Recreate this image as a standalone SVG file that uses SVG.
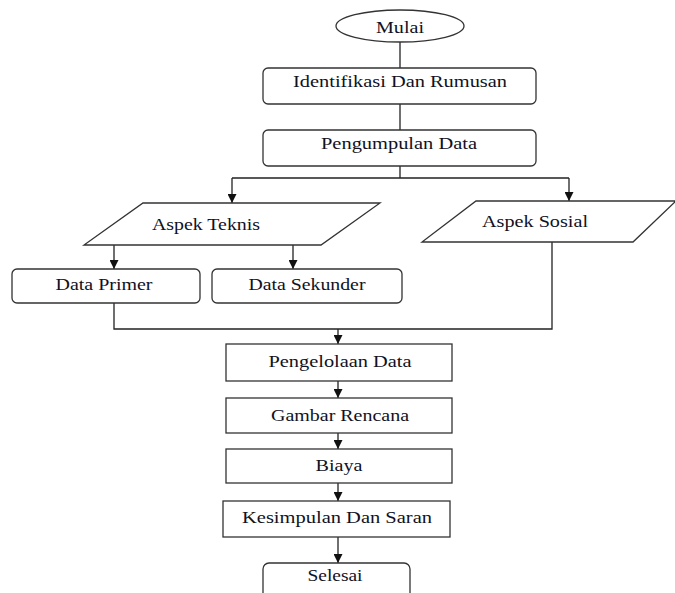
<svg xmlns="http://www.w3.org/2000/svg" width="675" height="593" viewBox="0 0 675 593">
  <style>
    .shape { fill: #ffffff; stroke: #333333; stroke-width: 1.3; }
    .label { font-family: "Liberation Serif", "Times New Roman", serif; font-size: 16px; fill: #111122; text-anchor: middle; }
    .conn { fill: none; stroke: #222222; stroke-width: 1.3; }
  </style>
  <defs>
    <marker id="arrow" markerUnits="userSpaceOnUse" markerWidth="9" markerHeight="9" refX="9" refY="4.5" orient="auto">
      <path d="M0,0 L9,4.5 L0,9 z" fill="#111111"/>
    </marker>
  </defs>
  <rect width="675" height="593" fill="#ffffff"/>

  <!-- connectors -->
  <g id="connectors">
    <path class="conn" d="M400,42 V68"/>
    <path class="conn" d="M400,104 V130"/>
    <path class="conn" d="M400,166 V178 M232,178 H569"/>
    <path class="conn" d="M232,178 V203" marker-end="url(#arrow)"/>
    <path class="conn" d="M569,178 V201" marker-end="url(#arrow)"/>
    <path class="conn" d="M114,245 V269" marker-end="url(#arrow)"/>
    <path class="conn" d="M293,245 V269" marker-end="url(#arrow)"/>
    <path class="conn" d="M114,303 V329 H552 V242"/>
    <path class="conn" d="M338,329 V344" marker-end="url(#arrow)"/>
    <path class="conn" d="M338,381 V398" marker-end="url(#arrow)"/>
    <path class="conn" d="M338,433 V449" marker-end="url(#arrow)"/>
    <path class="conn" d="M338,483 V501" marker-end="url(#arrow)"/>
    <path class="conn" d="M338,537 V563" marker-end="url(#arrow)"/>
  </g>

  <g id="mulai">
    <ellipse class="shape" cx="400" cy="26" rx="64" ry="16"/>
    <text class="label" x="400" y="33" textLength="48" lengthAdjust="spacingAndGlyphs">Mulai</text>
  </g>
  <g id="identifikasi">
    <rect class="shape" x="263" y="68" width="273" height="36" rx="5"/>
    <text class="label" x="400" y="87" textLength="214" lengthAdjust="spacingAndGlyphs">Identifikasi Dan Rumusan</text>
  </g>
  <g id="pengumpulan">
    <rect class="shape" x="263" y="130" width="273" height="36" rx="5"/>
    <text class="label" x="399" y="149" textLength="156" lengthAdjust="spacingAndGlyphs">Pengumpulan Data</text>
  </g>
  <g id="aspek-teknis">
    <polygon class="shape" points="143,203 380,203 321,245 84,245"/>
    <text class="label" x="206" y="230" textLength="108" lengthAdjust="spacingAndGlyphs">Aspek Teknis</text>
  </g>
  <g id="aspek-sosial">
    <polygon class="shape" points="476,201 676,201 633,242 422,242"/>
    <text class="label" x="535" y="227" textLength="106" lengthAdjust="spacingAndGlyphs">Aspek Sosial</text>
  </g>
  <g id="data-primer">
    <rect class="shape" x="12" y="269" width="188" height="34" rx="5"/>
    <text class="label" x="104" y="290" textLength="97" lengthAdjust="spacingAndGlyphs">Data Primer</text>
  </g>
  <g id="data-sekunder">
    <rect class="shape" x="212" y="269" width="190" height="34" rx="5"/>
    <text class="label" x="307" y="290" textLength="117" lengthAdjust="spacingAndGlyphs">Data Sekunder</text>
  </g>
  <g id="pengelolaan">
    <rect class="shape" x="226" y="344" width="226" height="37"/>
    <text class="label" x="340" y="367" textLength="143" lengthAdjust="spacingAndGlyphs">Pengelolaan Data</text>
  </g>
  <g id="gambar">
    <rect class="shape" x="226" y="398" width="226" height="35"/>
    <text class="label" x="340" y="421" textLength="138" lengthAdjust="spacingAndGlyphs">Gambar Rencana</text>
  </g>
  <g id="biaya">
    <rect class="shape" x="226" y="449" width="226" height="34"/>
    <text class="label" x="339" y="471" textLength="47" lengthAdjust="spacingAndGlyphs">Biaya</text>
  </g>
  <g id="kesimpulan">
    <rect class="shape" x="223" y="501" width="227" height="36"/>
    <text class="label" x="337" y="523" textLength="190" lengthAdjust="spacingAndGlyphs">Kesimpulan Dan Saran</text>
  </g>
  <g id="selesai">
    <rect class="shape" x="263" y="563" width="147" height="40" rx="6"/>
    <text class="label" x="335" y="581" textLength="55" lengthAdjust="spacingAndGlyphs">Selesai</text>
  </g>
</svg>
